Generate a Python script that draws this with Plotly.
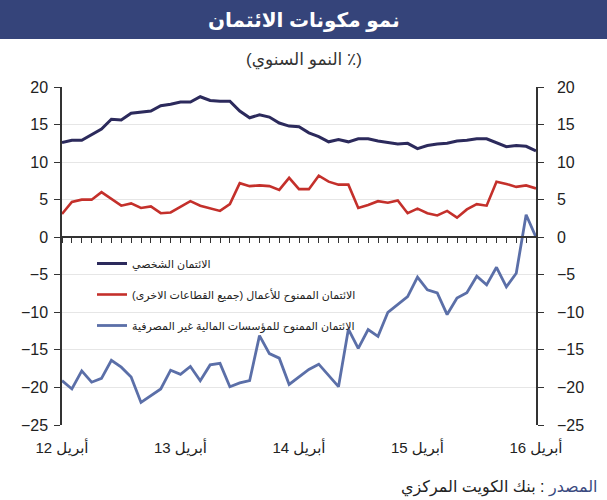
import plotly.graph_objects as go

# ---- data (monthly, Apr 2012 .. Apr 2016) ----
months = list(range(49))
personal = [12.6, 12.9, 12.9, 13.6, 14.4, 15.7, 15.6, 16.5, 16.6, 16.8,
            17.5, 17.7, 18.0, 18.0, 18.7, 18.2, 18.1, 18.1, 16.8, 15.9,
            16.3, 16.0, 15.2, 14.8, 14.7, 13.9, 13.4, 12.7, 13.0, 12.7,
            13.1, 13.1, 12.8, 12.6, 12.4, 12.5, 11.8, 12.2, 12.4, 12.5,
            12.8, 12.9, 13.1, 13.1, 12.6, 12.05, 12.2, 12.1, 11.5]
business = [3.1, 4.7, 5.0, 5.0, 6.0, 5.1, 4.2, 4.5, 3.9, 4.1,
            3.2, 3.3, 4.1, 4.8, 4.2, 3.9, 3.5, 4.4, 7.2, 6.8,
            6.9, 6.8, 6.3, 7.9, 6.4, 6.4, 8.2, 7.4, 7.0, 7.0,
            3.9, 4.3, 4.8, 4.6, 4.9, 3.2, 3.8, 3.2, 2.9, 3.5,
            2.6, 3.7, 4.4, 4.2, 7.4, 7.1, 6.7, 6.9, 6.5]
nonbank = [-19.1, -20.2, -17.8, -19.3, -18.8, -16.4, -17.3, -18.6, -22.0, -21.1,
           -20.2, -17.7, -18.25, -17.2, -19.1, -17.0, -16.8, -19.9, -19.4, -19.1,
           -13.1, -15.5, -16.1, -19.6, -18.6, -17.6, -16.9, -18.4, -19.9, -12.25,
           -14.8, -12.3, -13.2, -10.0, -8.9, -7.9, -5.3, -7.0, -7.4, -10.3,
           -8.1, -7.4, -5.2, -6.35, -4.0, -6.6, -4.8, 3.0, 0.0]

RLM = "\u200f"
series_names = ["الائتمان الشخصي",
                "الائتمان الممنوح للأعمال (جميع القطاعات الاخرى)",
                "الائتمان الممنوح للمؤسسات المالية غير المصرفية"]
tick_pos = [0, 12, 24, 36, 48]
tick_labels = ["أبريل 12", "أبريل 13", "أبريل 14", "أبريل 15", "أبريل 16"]
y_ticks = [-25, -20, -15, -10, -5, 0, 5, 10, 15, 20]

title_text = "نمو مكونات الائتمان"
subtitle_text = "(٪ النمو السنوي)"
source_label = "المصدر"
source_text = "بنك الكويت المركزي"

W, H = 607, 500
L, R, T, B = 62, 71, 87, 75
PW, PH = W - L - R, H - T - B

def px(x):
    return (x - L) / PW

def py(y):
    return (H - B - y) / PH

def rtl(s):
    return RLM + s + RLM

FONT = "Arial, Liberation Sans, DejaVu Sans, sans-serif"
NAVY = "#2c2a5c"
RED = "#c4302b"
BLUE = "#5b6fa8"
AX = "#333333"

fig = go.Figure()
fig.add_trace(go.Scatter(x=months, y=personal, mode="lines", name=rtl(series_names[0]),
                         line=dict(color=NAVY, width=3), legendgroup="a"))
fig.add_trace(go.Scatter(x=months, y=business, mode="lines", name=rtl(series_names[1]),
                         line=dict(color=RED, width=2.6), legendgroup="b"))
fig.add_trace(go.Scatter(x=months, y=nonbank, mode="lines", name=rtl(series_names[2]),
                         line=dict(color=BLUE, width=2.8), legendgroup="c",
                         xaxis="x2", yaxis="y2"))

fig.update_layout(
    width=W, height=H,
    margin=dict(l=L, r=R, t=T, b=B),
    paper_bgcolor="white", plot_bgcolor="white",
    font=dict(family=FONT, color="#222222", size=15),
    showlegend=True,
    legend=dict(x=px(92), y=py(249), xanchor="left", yanchor="top",
                bgcolor="rgba(0,0,0,0)", font=dict(size=11, color="#222222"),
                tracegroupgap=12, traceorder="grouped"),
    xaxis=dict(range=[0, 48], tickvals=tick_pos, ticktext=tick_labels,
               showgrid=False, showline=False, zeroline=False, ticks="",
               ticklabelstandoff=12, tickfont=dict(size=15)),
    xaxis2=dict(range=[0, 48], overlaying="x", anchor="free", position=25 / 45,
                side="bottom", showline=True, linecolor=AX, linewidth=1.5,
                ticks="outside", ticklen=5, tickwidth=1, tickcolor=AX,
                tick0=0, dtick=1, showticklabels=False, showgrid=False, zeroline=False),
    yaxis=dict(range=[-25, 20], tickvals=y_ticks, showgrid=True, gridcolor="#e6e6e6",
               gridwidth=1, zeroline=False, showline=True, linecolor=AX, linewidth=1.5,
               ticks="outside", ticklen=6, tickcolor=AX, tickfont=dict(size=16),
               ticklabelstandoff=3),
    yaxis2=dict(range=[-25, 20], tickvals=y_ticks, overlaying="y", side="right",
                showgrid=False, zeroline=False, showline=True, linecolor=AX, linewidth=1.5,
                ticks="outside", ticklen=6, tickcolor=AX, tickfont=dict(size=16),
                ticklabelstandoff=10),
)

# title band
fig.add_shape(type="rect", xref="paper", yref="paper",
              x0=px(0), x1=px(W), y0=py(39), y1=py(0),
              fillcolor="#35447a", line=dict(width=0), layer="below")
fig.add_annotation(xref="paper", yref="paper", x=px(304), y=py(20),
                   text="<b>" + title_text + "</b>", showarrow=False,
                   font=dict(size=20, color="white"), xanchor="center", yanchor="middle")
fig.add_annotation(xref="paper", yref="paper", x=px(304), y=py(60),
                   text=rtl(subtitle_text), showarrow=False,
                   font=dict(size=17, color="#333333"), xanchor="center", yanchor="middle")
fig.add_annotation(xref="paper", yref="paper", x=px(600), y=py(487),
                   text="<span style='color:#3a4a80'>" + source_label + "</span>" +
                        " : " + source_text,
                   showarrow=False, font=dict(size=16, color="#222222"),
                   xanchor="right", yanchor="middle")

fig.write_html("out.html")
